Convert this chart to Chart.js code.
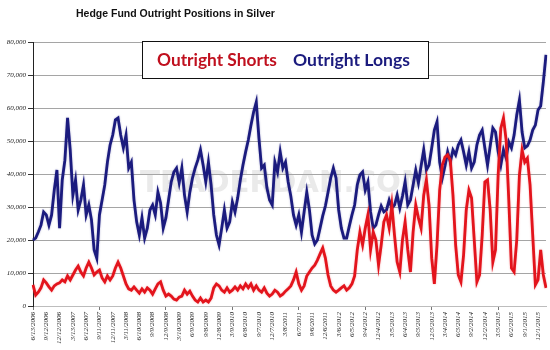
<!DOCTYPE html>
<html>
<head>
<meta charset="utf-8">
<script src="https://cdn.jsdelivr.net/npm/chart.js@4"></script>
<style>
  html, body { margin: 0; padding: 0; background: #fff; }
</style>
</head>
<body>
<canvas id="chart" width="550" height="350"></canvas>
<script>
const TITLE = 'Hedge Fund Outright Positions in Silver';
const WATERMARK = 'TRADERDAN.COM';
const SERIES_NAMES = ['Outright Shorts', 'Outright Longs'];

// one date label every fifth point
const TICK_DATES = [
  '6/13/2006', '9/12/2006', '12/12/2006', '3/13/2007', '6/12/2007', '9/11/2007', '12/11/2007',
  '3/11/2008', '6/10/2008', '9/9/2008', '12/9/2008', '3/10/2009', '6/9/2009', '9/8/2009',
  '12/8/2009', '3/9/2010', '6/8/2010', '9/7/2010', '12/7/2010', '3/8/2011', '6/7/2011',
  '9/6/2011', '12/6/2011', '3/6/2012', '6/5/2012', '9/4/2012', '12/4/2012', '3/5/2013',
  '6/4/2013', '9/3/2013', '12/3/2013', '3/4/2014', '6/3/2014', '9/2/2014', '12/2/2014',
  '3/3/2015', '6/2/2015', '9/1/2015', '12/1/2015',
];
const Y_TICKS = [0, 10000, 20000, 30000, 40000, 50000, 60000, 70000, 80000];

// contracts
const LONGS = [
  20000, 20600, 22400, 24500, 28500, 27600, 24500, 27600, 35100, 41200,
  23600, 38200, 44200, 57000, 47300, 33600, 38200, 29100, 32100, 36700,
  27600, 30600, 26100, 17000, 14500, 27600, 32100, 36700, 43600, 48800,
  51800, 56400, 57000, 51800, 47900, 51800, 41800, 43600, 32100, 25500,
  21500, 26700, 20600, 23600, 29100, 30600, 27600, 34500, 31200, 23600,
  26700, 32100, 37600, 40600, 41800, 37300, 41800, 33600, 28500, 34500,
  38800, 41800, 44200, 47300, 42700, 37600, 43600, 36700, 27600, 21500,
  18500, 23600, 29100, 23600, 25500, 31500, 28500, 32700, 38200, 42700,
  46700, 50300, 54800, 58800, 61800, 50900, 41800, 42700, 35800, 32100,
  30600, 43600, 40600, 46700, 41800, 43600, 37600, 33300, 27600, 24500,
  27600, 22400, 28500, 34500, 29100, 21500, 18800, 20000, 23600, 27300,
  30300, 34500, 38800, 41800, 38800, 29100, 23600, 20600, 20600, 24200,
  27600, 30600, 36700, 39700, 40600, 35100, 37600, 28500, 23600, 24500,
  27600, 30300, 28500, 29100, 32100, 29700, 30600, 33600, 29700, 33300,
  37600, 30600, 32100, 36700, 41200, 37300, 42400, 47300, 41200, 42700,
  47900, 53300, 55800, 43600, 38800, 42400, 46700, 43600, 47300, 45800,
  48800, 50300, 46700, 42700, 46700, 41800, 43600, 48800, 51800, 53300,
  47900, 42700, 48500, 53900, 52700, 46700, 42700, 47300, 44800, 49700,
  47900, 51800, 57900, 62400, 52700, 47900, 48500, 50300, 53300, 54800,
  59400, 60600, 67900, 76100,
];
const SHORTS = [
  6400, 3300, 4200, 5500, 7900, 7000, 5800, 4800, 6100, 6700,
  7000, 7900, 7300, 9100, 7900, 9400, 10900, 12100, 10300, 9100,
  11500, 13300, 11500, 9400, 10300, 10900, 8500, 7300, 9100, 7900,
  9100, 11500, 13300, 11500, 9100, 6700, 5200, 4800, 5800, 4800,
  3900, 5200, 4200, 5500, 4800, 3600, 5200, 6700, 7300, 4800,
  3000, 3600, 3000, 2100, 1800, 2700, 3000, 4800, 3600, 4500,
  3000, 1800, 1200, 2400, 1200, 1800, 1200, 2400, 5500, 6700,
  6100, 4800, 4200, 5500, 4200, 4800, 5800, 4800, 6100, 5200,
  6700, 5500, 6700, 4800, 6100, 4800, 4200, 5500, 3900, 3000,
  3600, 4800, 4200, 3000, 3600, 4500, 5200, 6100, 7900, 10300,
  6700, 4800, 6100, 9100, 10300, 11500, 12400, 13900, 15800, 17600,
  14500, 9400, 6100, 4800, 4200, 4800, 5500, 6100, 4800, 5500,
  6700, 9100, 17000, 22400, 18500, 23600, 27600, 17000, 22400, 20000,
  12400, 18500, 25500, 27600, 23600, 30600, 21500, 13300, 10300, 20000,
  25500, 17000, 10300, 22400, 30600, 26700, 23600, 33600, 38200, 30600,
  14500, 6700, 18500, 35100, 42700, 45100, 45800, 44200, 33600, 18500,
  9400, 7300, 15500, 29100, 35100, 32700, 20000, 7300, 9400, 21500,
  37600, 38200, 29100, 13300, 17000, 39700, 53900, 57000, 50300, 32100,
  11500, 10300, 20000, 39700, 47300, 43600, 44800, 36700, 21500, 6400,
  7900, 17000, 9400, 5500,
];

const RED = '#e3141c';
const NAVY = '#1b1b7e';

// scale the font so the text spans the given width
function fitFont(ctx, text, weight, family, width) {
  ctx.font = `${weight} 20px ${family}`;
  const size = 20 * width / ctx.measureText(text).width;
  return `${weight} ${size.toFixed(2)}px ${family}`;
}

const decor = {
  id: 'decor',
  beforeDatasetsDraw(chart) {
    const { ctx } = chart;
    ctx.save();
    ctx.font = fitFont(ctx, WATERMARK, 'bold', '"DejaVu Sans"', 290);
    ctx.fillStyle = 'rgba(170,170,170,0.25)';
    ctx.textAlign = 'center';
    ctx.textBaseline = 'middle';
    ctx.fillText(WATERMARK, 285, 184);
    ctx.restore();
  },
  // soft halo round each line
  beforeDatasetDraw(chart, args) {
    const { ctx } = chart;
    ctx.save();
    ctx.shadowColor = args.index === 0 ? 'rgba(227,20,28,0.35)' : 'rgba(27,27,126,0.35)';
    ctx.shadowBlur = 2;
  },
  afterDatasetDraw(chart) {
    chart.ctx.restore();
  },
  afterDraw(chart) {
    const { ctx } = chart;
    ctx.save();
    // title
    ctx.font = fitFont(ctx, TITLE, 'bold', '"Liberation Sans"', 199);
    ctx.fillStyle = '#111';
    ctx.textBaseline = 'middle';
    ctx.textAlign = 'left';
    ctx.fillText(TITLE, 76, 14);

    // legend box
    ctx.fillStyle = '#fff';
    ctx.fillRect(142.5, 41.5, 286, 37);
    ctx.strokeStyle = '#111';
    ctx.lineWidth = 1;
    ctx.strokeRect(142.5, 41.5, 286, 37);
    ctx.textBaseline = 'alphabetic';
    ctx.font = fitFont(ctx, SERIES_NAMES[0], 'bold', 'Lato', 120);
    ctx.fillStyle = '#c0101e';
    ctx.fillText(SERIES_NAMES[0], 157, 66);
    ctx.font = fitFont(ctx, SERIES_NAMES[1], 'bold', 'Lato', 117);
    ctx.fillStyle = NAVY;
    ctx.fillText(SERIES_NAMES[1], 293, 66);
    ctx.restore();
  },
};

new Chart(document.getElementById('chart'), {
  type: 'line',
  data: {
    labels: LONGS.map((_, i) => i),
    datasets: [
      // first dataset is drawn last, so the shorts sit on top
      {
        label: SERIES_NAMES[0],
        data: SHORTS,
        borderColor: RED,
        borderWidth: 2.8,
        pointRadius: 0,
        tension: 0,
      },
      {
        label: SERIES_NAMES[1],
        data: LONGS,
        borderColor: NAVY,
        borderWidth: 2.8,
        pointRadius: 0,
        tension: 0,
      },
    ],
  },
  options: {
    responsive: false,
    animation: false,
    layout: { padding: { top: 42, right: 4, left: 0, bottom: 0 } },
    plugins: {
      legend: { display: false },
      title: { display: false },
      tooltip: { enabled: false },
    },
    scales: {
      x: {
        type: 'category',
        offset: false,
        grid: {
          drawOnChartArea: false,
          tickLength: 4,
          tickColor: (c) => (c.index % 5 === 0 ? '#777' : 'rgba(0,0,0,0)'),
        },
        border: { color: '#bdbdbd' },
        ticks: {
          autoSkip: false,
          minRotation: 90,
          maxRotation: 90,
          padding: 2,
          color: '#222',
          font: { family: '"Liberation Serif"', style: 'italic', size: 7 },
          callback: (v, i) => (i % 5 === 0 ? TICK_DATES[i / 5] : null),
        },
        afterFit: (s) => { s.height = 44; },
      },
      y: {
        min: 0,
        max: 80000,
        afterBuildTicks: (s) => { s.ticks = Y_TICKS.map((v) => ({ value: v })); },
        grid: { color: '#a5a5a5', tickColor: '#333', tickLength: 5 },
        border: { color: '#222', width: 1 },
        ticks: {
          padding: 2,
          color: '#222',
          font: { family: '"Liberation Serif"', style: 'italic', size: 7 },
          callback: (v) => v.toLocaleString('en-US'),
        },
        afterFit: (s) => { s.width = 33; },
      },
    },
  },
  plugins: [decor],
});
</script>
</body>
</html>
